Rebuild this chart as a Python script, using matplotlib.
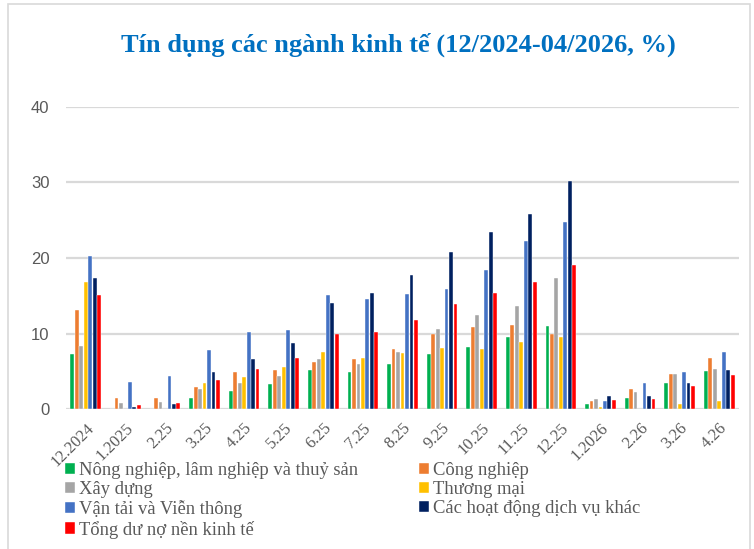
import numpy as np
import matplotlib.pyplot as plt
from matplotlib.patches import Rectangle

# categories (months)
months = ['12.2024', '1.2025', '2.25', '3.25', '4.25', '5.25', '6.25', '7.25', '8.25',
          '9.25', '10.25', '11.25', '12.25', '1.2026', '2.26', '3.26', '4.26']

nong_nghiep = [7.3, 0, 0, 1.4, 2.4, 3.3, 5.2, 4.9, 5.9, 7.3, 8.2, 9.5, 11.0, 0.7, 1.5, 3.5, 5.0]
cong_nghiep = [13.1, 1.5, 1.5, 2.9, 4.9, 5.2, 6.2, 6.6, 7.9, 9.9, 10.8, 11.1, 10.0, 1.0, 2.6, 4.7, 6.7]
xay_dung = [8.3, 0.8, 0.9, 2.6, 3.5, 4.4, 6.6, 6.0, 7.6, 10.6, 12.4, 13.7, 17.4, 1.3, 2.2, 4.6, 5.3]
thuong_mai = [16.8, 0, 0, 3.4, 4.3, 5.5, 7.6, 6.8, 7.4, 8.1, 7.9, 8.9, 9.6, 0.2, 0, 0.7, 1.1]
van_tai = [20.2, 3.6, 4.4, 7.8, 10.2, 10.4, 15.1, 14.6, 15.2, 15.9, 18.4, 22.2, 24.8, 1.1, 3.5, 4.9, 7.6]
dich_vu_khac = [17.3, 0.3, 0.7, 4.9, 6.6, 8.8, 14.0, 15.3, 17.7, 20.8, 23.4, 25.8, 30.2, 1.7, 1.7, 3.5, 5.2]
tong_du_no = [15.1, 0.5, 0.8, 3.8, 5.3, 6.7, 9.9, 10.2, 11.8, 13.9, 15.3, 16.8, 19.1, 1.2, 1.3, 3.1, 4.5]

series = [
    ('Nông nghiệp, lâm nghiệp và thuỷ sản', nong_nghiep, '#00B050'),
    ('Công nghiệp', cong_nghiep, '#ED7D31'),
    ('Xây dựng', xay_dung, '#A5A5A5'),
    ('Thương mại', thuong_mai, '#FFC000'),
    ('Vận tải và Viễn thông', van_tai, '#4472C4'),
    ('Các hoạt động dịch vụ khác', dich_vu_khac, '#002060'),
    ('Tổng dư nợ nền kinh tế', tong_du_no, '#FF0000'),
]

fig = plt.figure(figsize=(7.54, 5.49), dpi=100)
ax = fig.add_axes([66 / 754, 1 - 409 / 549, 673 / 754, 302 / 549])

x = np.arange(len(months))
slot = 0.113
handles = []
for i, (name, vals, color) in enumerate(series):
    b = ax.bar(x + (i - 3) * slot, vals, width=slot * 0.85, color=color,
               edgecolor='white', linewidth=0.3, label=name, zorder=3)
    handles.append(b)

ax.set_xlim(-0.5, len(months) - 0.5)
ax.set_ylim(0, 40)
ax.set_yticks([0, 10, 20, 30, 40])
ax.grid(axis='y', color='#D9D9D9', linewidth=1.6, zorder=0)
for s in ax.spines.values():
    s.set_visible(False)
ax.tick_params(length=0)
ax.tick_params(axis='y', pad=12, labelcolor='#595959')
for lab in ax.get_yticklabels():
    lab.set_fontfamily('Liberation Sans')
    lab.set_fontsize(12)

ax.set_xticks(x)
ax.set_xticklabels(months, rotation=45, ha='right', rotation_mode='anchor',
                   fontfamily='Liberation Serif', fontsize=12, color='#595959')
ax.tick_params(axis='x', pad=8)

fig.text(398 / 754, 1 - 45 / 549, 'Tín dụng các ngành kinh tế (12/2024-04/2026, %)',
         ha='center', va='center', fontfamily='Liberation Serif', fontweight='bold',
         fontsize=19, color='#0070C0')

# row-major legend order, as in the original
order = [0, 2, 4, 6, 1, 3, 5]
leg = fig.legend(handles=[handles[k] for k in order], loc='upper left',
                 bbox_to_anchor=(65 / 754, 1 - 462 / 549),
                 ncol=2, frameon=False, prop={'family': 'Liberation Serif', 'size': 13.4},
                 handlelength=0.54, handleheight=0.54, handletextpad=0.2,
                 columnspacing=3.3, labelspacing=0.12, borderpad=0, borderaxespad=0)
for t in leg.get_texts():
    t.set_color('#595959')

fig.patches.append(Rectangle((8 / 754, -0.01), 742 / 754, 1 - 4 / 549 + 0.01,
                             transform=fig.transFigure, fill=False,
                             edgecolor='#D9D9D9', linewidth=1.2))

fig.savefig('out.png', dpi=100)
